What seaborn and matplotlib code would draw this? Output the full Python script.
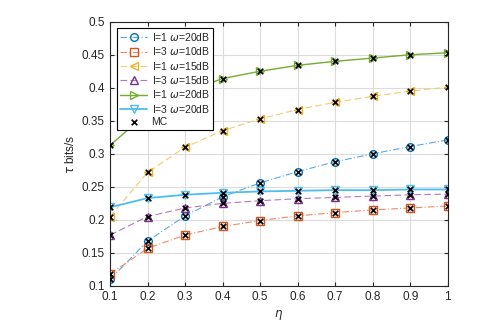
import numpy as np
import pandas as pd
import matplotlib
matplotlib.use("Agg")
import matplotlib.pyplot as plt
import seaborn as sns

eta = [0.1, 0.2, 0.3, 0.4, 0.5, 0.6, 0.7, 0.8, 0.9, 1.0]
s_i1_w20_a = [0.110, 0.168, 0.206, 0.235, 0.256, 0.273, 0.288, 0.300, 0.311, 0.321]
s_i3_w10 = [0.118, 0.157, 0.177, 0.190, 0.199, 0.206, 0.211, 0.215, 0.218, 0.221]
s_i1_w15 = [0.205, 0.272, 0.310, 0.335, 0.353, 0.367, 0.378, 0.387, 0.395, 0.401]
s_i3_w15 = [0.177, 0.205, 0.218, 0.225, 0.229, 0.232, 0.234, 0.236, 0.238, 0.239]
s_i1_w20_b = [0.313, 0.362, 0.393, 0.414, 0.425, 0.434, 0.440, 0.445, 0.450, 0.453]
s_i3_w20 = [0.219, 0.233, 0.238, 0.241, 0.243, 0.244, 0.245, 0.245, 0.246, 0.246]
labels = ["I=1 $\\omega$=20dB", "I=3 $\\omega$=10dB", "I=1 $\\omega$=15dB",
          "I=3 $\\omega$=15dB", "I=1 $\\omega$=20dB", "I=3 $\\omega$=20dB"]
xticks = [0.1, 0.2, 0.3, 0.4, 0.5, 0.6, 0.7, 0.8, 0.9, 1.0]
xticklabels = ["0.1", "0.2", "0.3", "0.4", "0.5", "0.6", "0.7", "0.8", "0.9", "1"]
yticks = [0.1, 0.15, 0.2, 0.25, 0.3, 0.35, 0.4, 0.45, 0.5]
yticklabels = ["0.1", "0.15", "0.2", "0.25", "0.3", "0.35", "0.4", "0.45", "0.5"]

series = [s_i1_w20_a, s_i3_w10, s_i1_w15, s_i3_w15, s_i1_w20_b, s_i3_w20]
colors = ["#0072BD", "#D95319", "#EDB120", "#7E2F8E", "#77AC30", "#4DBEEE"]
line_colors = ["#5AA9E6", "#F08A64", "#F5CB6A", "#B27BC0", "#77AC30", "#4DBEEE"]
markers = ["o", "s", "<", "^", ">", "v"]
dashes = [(6, 2, 1, 2), (6, 2, 1, 2), (6, 3), (6, 3), "", ""]
lws = [0.8, 0.8, 0.8, 0.8, 1.0, 1.3]

sns.set_theme(style="white")
plt.rcParams['font.family'] = ['Liberation Sans', 'DejaVu Sans']
plt.rcParams['mathtext.fontset'] = 'dejavusans'

fig = plt.figure(figsize=(4.83, 3.29), dpi=100)
ax = fig.add_axes([0.228, 0.131, 0.699, 0.803])

for i, ys in enumerate(series):
    df = pd.DataFrame({"eta": eta, "tau": ys})
    sns.lineplot(data=df, x="eta", y="tau", ax=ax, color=line_colors[i],
                 linewidth=lws[i], marker=markers[i], markersize=5.5,
                 markerfacecolor="none", markeredgecolor=colors[i],
                 markeredgewidth=1.0, label=labels[i])
    if dashes[i]:
        ax.lines[-1].set_dashes(dashes[i])

mc_x = eta * len(series)
mc_y = sum(series, [])
sns.scatterplot(x=mc_x, y=mc_y, ax=ax, marker="x", color="black", s=16,
                linewidth=1.2, label="MC", zorder=5)

ax.set_xlim(0.1, 1.0)
ax.set_ylim(0.1, 0.5)
ax.set_xticks(xticks)
ax.set_xticklabels(xticklabels)
ax.set_yticks(yticks)
ax.set_yticklabels(yticklabels)
ax.grid(True, color="#dcdcdc", linewidth=0.8)
ax.set_axisbelow(True)
for sp in ax.spines.values():
    sp.set_color("#262626")
    sp.set_linewidth(0.8)
    sp.set_visible(True)
ax.tick_params(direction="in", length=3, width=0.8, top=True, right=True,
               labelsize=8.5, colors="#262626", pad=4,
               bottom=True, left=True)
ax.set_xlabel("$\\eta$", fontsize=8.5, color="#262626", labelpad=3)
ax.set_ylabel("$\\tau$ bits/s", fontsize=8.5, color="#262626", labelpad=3)

leg = ax.legend(loc="upper left", fontsize=7.5, frameon=True, fancybox=False,
                edgecolor="black", framealpha=1, borderpad=0.3,
                labelspacing=0.22, handlelength=2.6, handletextpad=0.4,
                borderaxespad=0.35, bbox_to_anchor=(0.01, 0.99))
leg.get_frame().set_linewidth(0.8)

fig.savefig("out.png", dpi=100)
